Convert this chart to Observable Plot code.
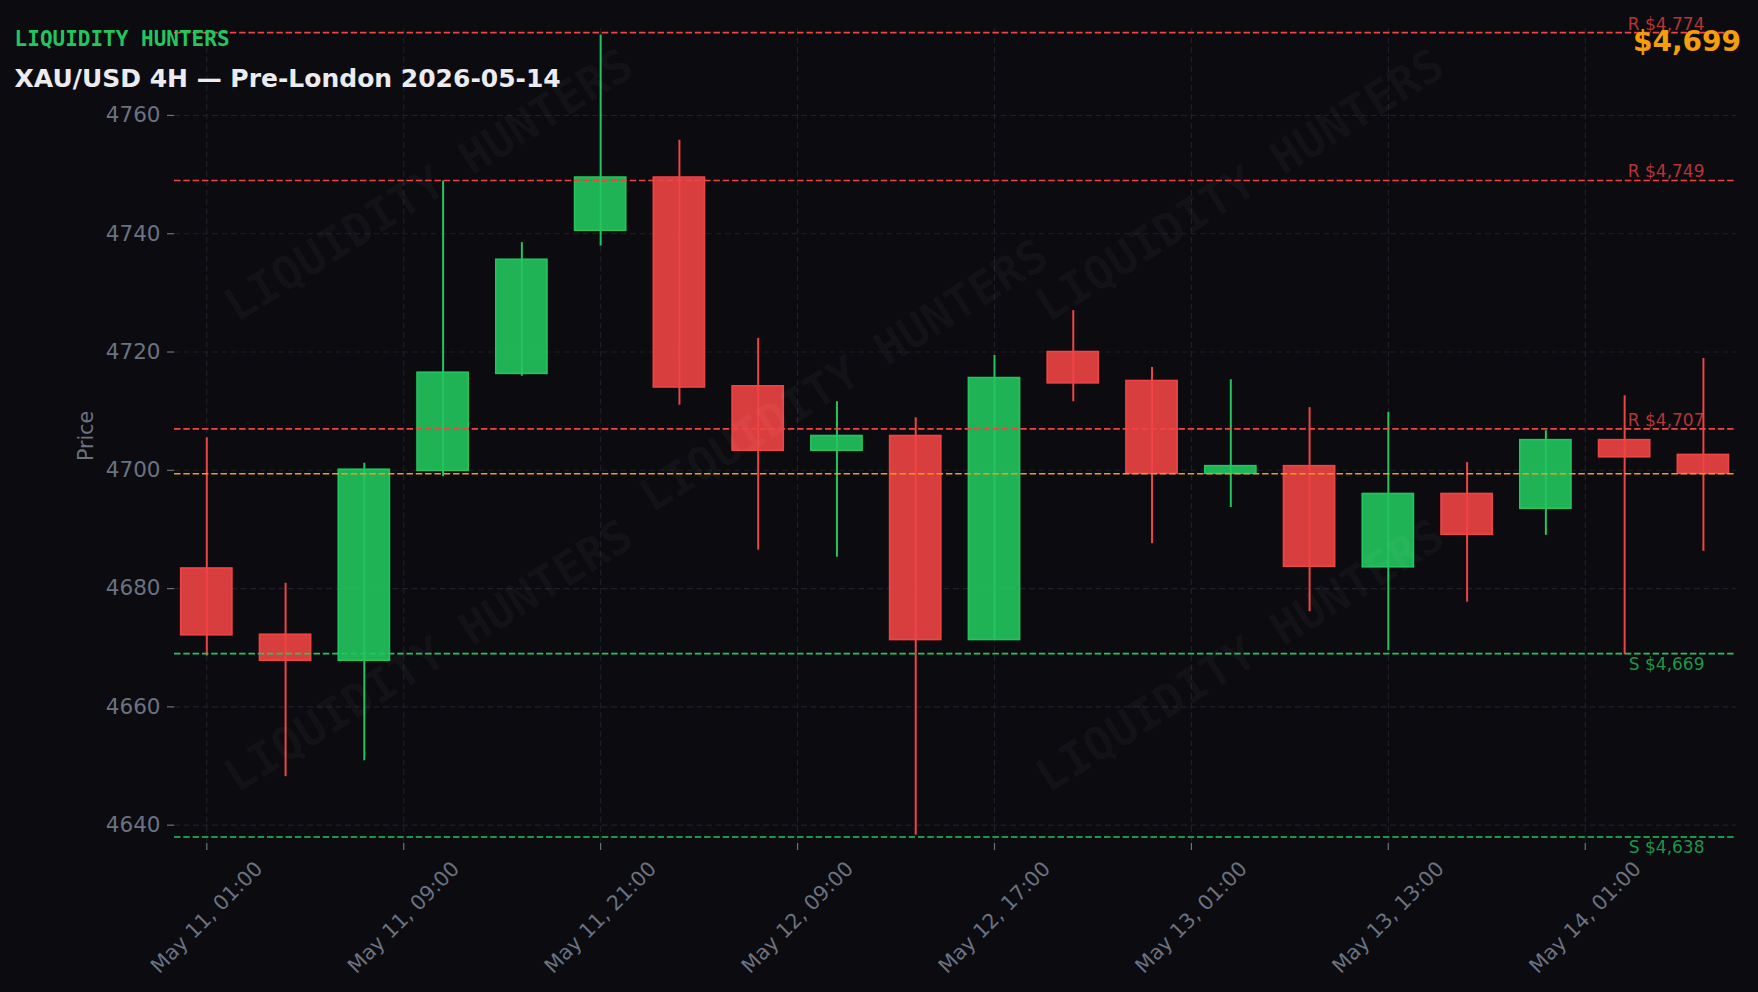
<!DOCTYPE html>
<html><head><meta charset="utf-8">
<script src="https://cdn.jsdelivr.net/npm/d3@7"></script>
<script src="https://cdn.jsdelivr.net/npm/@observablehq/plot@0.6"></script>
<style>
html,body{margin:0;padding:0;background:#0b0b10;}
#chart{position:relative;width:1758px;height:992px;overflow:hidden;}
</style></head><body><div id="chart"></div>
<script>
// ---- data ----
const times = ["May 11, 01:00","May 11, 05:00","May 11, 09:00","May 11, 13:00","May 11, 17:00","May 11, 21:00",
  "May 12, 01:00","May 12, 05:00","May 12, 09:00","May 12, 13:00","May 12, 17:00","May 12, 21:00",
  "May 13, 01:00","May 13, 05:00","May 13, 09:00","May 13, 13:00","May 13, 17:00","May 13, 21:00",
  "May 14, 01:00","May 14, 05:00"];
const opens  = [4683.4,4672.2,4667.8,4699.9,4716.3,4740.5,4749.5,4714.2,4703.3,4705.8,4671.3,4720.0,4715.1,4699.4,4700.7,4683.6,4696.0,4693.5,4705.1,4702.6];
const highs  = [4705.5,4680.9,4701.2,4748.9,4738.5,4773.6,4755.8,4722.3,4711.6,4708.9,4719.4,4727.0,4717.4,4715.3,4710.6,4709.8,4701.3,4706.7,4712.6,4718.9];
const lows   = [4668.6,4648.2,4650.9,4698.9,4715.9,4737.9,4711.0,4686.5,4685.3,4638.3,4671.3,4711.6,4687.6,4693.7,4676.1,4669.5,4677.7,4689.0,4668.8,4686.3];
const closes = [4672.1,4667.8,4700.1,4716.5,4735.6,4749.5,4714.0,4703.3,4705.8,4671.3,4715.6,4714.7,4699.4,4700.7,4683.7,4696.0,4689.1,4705.1,4702.2,4699.4];
const xTickPos = [0,2.5,5,7.5,10,12.5,15,17.5];
const xTickLabels = ["May 11, 01:00","May 11, 09:00","May 11, 21:00","May 12, 09:00","May 12, 17:00","May 13, 01:00","May 13, 13:00","May 14, 01:00"];
const yTicks = [4640,4660,4680,4700,4720,4740,4760];
const resistances = [4774,4749,4707];
const supports = [4669,4638];
const currentPrice = 4699.4;
const watermarkPos = [[2.82,4748.1],[8.09,4715.9],[13.12,4748.1],[2.82,4668.5],[13.12,4668.5]];

// ---- style ----
const BG="#0b0b10", GRID="#1f2029", GREY="#6b7280", RED="#ef4444", GREEN="#22c55e", ORANGE="#f59e0b";
const data = times.map((t,i)=>({i,t,open:opens[i],high:highs[i],low:lows[i],close:closes[i],col: closes[i]>=opens[i]?GREEN:RED}));
const fmt = d3.format(",.0f");
const BW = 0.65;

const plot = Plot.plot({
  width:1758, height:992,
  marginLeft:174, marginRight:22, marginTop:28, marginBottom:149,
  style:{background:BG, color:GREY, fontFamily:"DejaVu Sans", fontSize:"20px", overflow:"visible"},
  x:{domain:[-0.41,19.42], axis:null},
  y:{domain:[4636.9,4774.7], axis:null},
  color:{type:"identity"},
  marks:[
    Plot.gridY(yTicks,{stroke:GRID, strokeOpacity:1, strokeWidth:1.1, strokeDasharray:"6,3.5"}),
    Plot.gridX(xTickPos,{stroke:GRID, strokeOpacity:1, strokeWidth:1.1, strokeDasharray:"6,3.5"}),
    Plot.axisY({ticks:yTicks, tickSize:7, tickPadding:7, fontSize:21.5, tickFormat:d=>String(d), label:null, color:GREY, strokeWidth:1.2}),
    Plot.axisX({ticks:xTickPos, tickSize:7, tickFormat:()=>"", label:null, color:GREY, strokeWidth:1.2}),
    Plot.text(xTickPos,{x:d=>d, text:(d,i)=>xTickLabels[i], frameAnchor:"bottom", dy:74, rotate:-45,
      textAnchor:"middle", lineAnchor:"middle", fontSize:20.6, fill:GREY}),
    Plot.text(["Price"],{frameAnchor:"left", text:d=>d, dx:-88, rotate:-90, textAnchor:"middle", lineAnchor:"middle", fontSize:20.5, fill:GREY}),
    Plot.ruleX(data,{x:"i", y1:"low", y2:"high", stroke:"col", strokeWidth:2}),
    Plot.rect(data,{x1:d=>d.i-BW/2, x2:d=>d.i+BW/2, y1:"open", y2:"close", fill:"col", fillOpacity:0.9, stroke:"col", strokeWidth:1.6}),
    Plot.text(watermarkPos,{x:d=>d[0], y:d=>d[1], text:()=>"LIQUIDITY HUNTERS", rotate:-32, textAnchor:"middle", lineAnchor:"middle",
      fontFamily:"DejaVu Sans Mono", fontWeight:"bold", fontSize:46, fill:"#ffffff", fillOpacity:0.035}),
    Plot.ruleY(resistances,{y:d=>d, stroke:RED, strokeWidth:1.7, strokeDasharray:"6.5,2.8"}),
    Plot.ruleY(supports,{y:d=>d, stroke:GREEN, strokeWidth:1.7, strokeDasharray:"6.5,2.8"}),
    Plot.ruleY([currentPrice],{y:d=>d, stroke:ORANGE, strokeWidth:1.5, strokeDasharray:"6.5,2.8"}),
    Plot.text(resistances,{y:d=>d, text:d=>"R $"+fmt(d), frameAnchor:"right", dx:-32, dy:-3, textAnchor:"end", lineAnchor:"bottom",
      fontSize:17, fill:RED, fillOpacity:0.75}),
    Plot.text(supports,{y:d=>d, text:d=>"S $"+fmt(d), frameAnchor:"right", dx:-32, dy:4, textAnchor:"end", lineAnchor:"top",
      fontSize:17, fill:GREEN, fillOpacity:0.75})
  ]
});
document.getElementById("chart").appendChild(plot);

const svg = d3.select(plot);
svg.append("text").attr("x",14.6).attr("y",46).attr("text-anchor","start").attr("font-family","DejaVu Sans Mono").attr("font-weight","bold")
  .attr("font-size",21).attr("fill",GREEN).text("LIQUIDITY HUNTERS");
svg.append("text").attr("x",14.6).attr("y",87).attr("text-anchor","start").attr("font-family","DejaVu Sans").attr("font-weight","bold")
  .attr("font-size",25).attr("fill","#ececf0").text("XAU/USD 4H — Pre-London 2026-05-14");
svg.append("text").attr("x",1741).attr("y",51).attr("text-anchor","end").attr("font-family","DejaVu Sans").attr("font-weight","bold")
  .attr("font-size",28).attr("fill",ORANGE).text("$"+fmt(currentPrice));
</script></body></html>
